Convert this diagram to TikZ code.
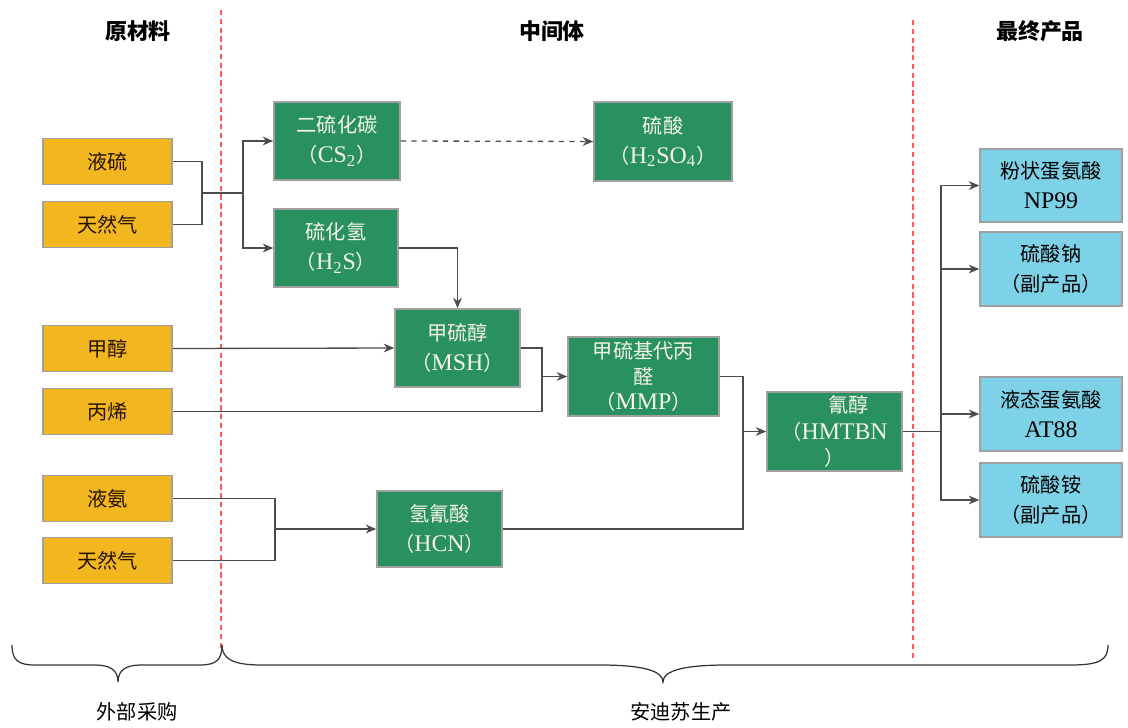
\documentclass[tikz,border=0pt]{standalone}
\usepackage{fontspec}
\setmainfont{Liberation Serif}[Scale=1.18]
\newfontfamily\cjk{Noto Sans CJK SC}
\usetikzlibrary{arrows.meta,calc}
\definecolor{orangebox}{RGB}{242,182,30}
\definecolor{greenbox}{RGB}{41,145,96}
\definecolor{bluebox}{RGB}{126,210,232}
\definecolor{boxborder}{RGB}{160,160,160}
\definecolor{greentext}{RGB}{245,245,230}
\begin{document}
\begin{tikzpicture}[x=0.02cm,y=-0.02cm,
  base/.style={draw=boxborder,line width=0.9pt,align=center,inner sep=0pt,
     font=\fontsize{11.5}{17}\selectfont},
  obox/.style={base,fill=orangebox,text=black!85!orange,minimum width=2.58cm,minimum height=0.92cm},
  gbox/.style={base,fill=greenbox,text=greentext,minimum height=1.56cm},
  pbox/.style={base,fill=bluebox,text=black,minimum width=2.84cm,minimum height=1.47cm},
  head/.style={font=\fontsize{12.5}{15}\selectfont\cjk\bfseries},
  foot/.style={font=\fontsize{11.5}{15}\selectfont\cjk},
  conn/.style={draw=black!70,line width=0.75pt},
  arr/.style={conn,-{Stealth[length=6pt,width=5pt]}},
  sep/.style={draw=red!65,line width=0.6pt,dash pattern=on 3pt off 2pt},
  brace/.style={draw=black!80,line width=0.7pt}
]
\useasboundingbox (0,0) rectangle (1128,727);

% separators
\draw[sep] (221,10) coordinate (s1a) -- (221,648) coordinate (s1b);
\draw[sep] (913,20) coordinate (s2a) -- (913,660) coordinate (s2b);

% headers
\node[head] (h1) at (138,31) {原材料};
\node[head] (h2) at (552,31) {中间体};
\node[head] (h3) at (1040,31) {最终产品};

% raw materials
\node[obox] (ls) at (107.5,161.5) {\cjk 液硫};
\node[obox] (tr) at (107.5,224.5) {\cjk 天然气};
\node[obox] (jc) at (107.5,348.5) {\cjk 甲醇};
\node[obox] (bx) at (107.5,411.5) {\cjk 丙烯};
\node[obox] (ya) at (107.5,498.5) {\cjk 液氨};
\node[obox] (tr2) at (107.5,560.5) {\cjk 天然气};

% intermediates
\node[gbox,minimum width=2.52cm] (cs2) at (337,141) {{\cjk 二硫化碳}\\{\cjk （}CS\textsubscript{2}{\cjk ）}};
\node[gbox,minimum width=2.48cm] (h2s) at (336,248) {{\cjk 硫化氢}\\{\cjk （}H\textsubscript{2}S{\cjk ）}};
\node[gbox,minimum width=2.76cm,minimum height=1.58cm] (h2so4) at (663,141.5) {{\cjk 硫酸}\\{\cjk （}H\textsubscript{2}SO\textsubscript{4}{\cjk ）}};
\node[gbox,minimum width=2.5cm] (msh) at (457.5,348) {{\cjk 甲硫醇}\\{\cjk （}MSH{\cjk ）}};
\node[gbox,minimum width=3.02cm,minimum height=1.58cm,font=\fontsize{11.5}{14.5}\selectfont] (mmp) at (643.5,376.5) {{\cjk 甲硫基代丙}\\{\cjk 醛}\\{\cjk （}MMP{\cjk ）}};
\node[gbox,minimum width=2.7cm,minimum height=1.58cm,font=\fontsize{11.5}{15}\selectfont] (hm) at (834.5,431.5) {\hspace*{1.2em}{\cjk 氰醇}\\{\cjk （}HMTBN\\{\cjk ）}};
\node[gbox,minimum width=2.5cm,minimum height=1.52cm] (hcn) at (439.5,529) {{\cjk 氢氰酸}\\{\cjk （}HCN{\cjk ）}};

% products
\node[pbox] (p1) at (1051,185.5) {{\cjk 粉状蛋氨酸}\\NP99};
\node[pbox] (p2) at (1051,269) {{\cjk 硫酸钠}\\{\cjk （副产品）}};
\node[pbox] (p3) at (1051,414) {{\cjk 液态蛋氨酸}\\AT88};
\node[pbox] (p4) at (1051,500) {{\cjk 硫酸铵}\\{\cjk （副产品）}};

% connectors: sulfur + gas
\coordinate (j1) at (202,193);
\coordinate (j1b) at (243,193);
\draw[conn] (ls.east) -| (j1) |- (tr.east);
\draw[conn] (j1) -- (j1b);
\draw[arr] (j1b) |- (cs2.west);
\draw[arr] (j1b) |- (h2s.west);
\draw[arr,dashed] (cs2.east) -- (h2so4.west);
\draw[arr] (h2s.east) -| (msh.north);
\draw[arr] (jc.east) -- (msh.west);

% MSH + propylene -> MMP
\coordinate (j2) at (542,376.5);
\draw[conn] (msh.east) -| (j2 |- bx.east) -- (bx.east);
\draw[arr] (j2) -- (mmp.west);

% ammonia + gas -> HCN
\coordinate (j4) at (275,529);
\draw[conn] (ya.east) -| (j4) |- (tr2.east);
\draw[arr] (j4) -- (hcn.west);

% MMP + HCN -> HMTBN
\coordinate (j3) at (743,431.5);
\draw[conn] (mmp.east) -| (j3 |- hcn.east) -- (hcn.east);
\draw[arr] (j3) -- (hm.west);

% HMTBN -> products
\coordinate (j5) at (941,431.5);
\draw[conn,line width=1.1pt] (hm.east) -- (j5);
\draw[arr] (j5) |- (p1.west);
\draw[arr] (j5) |- (p2.west);
\draw[arr] (j5) |- (p3.west);
\draw[arr] (j5) |- (p4.west);

% braces
\draw[brace] (12,645) .. controls (12,660) and (18,665) .. (35,665) -- (95,665)
  .. controls (110,665) and (118,670) .. (118,682)
  .. controls (118,670) and (126,665) .. (141,665) -- (200,665)
  .. controls (216,665) and (222,660) .. (222,645);
\draw[brace] (222,645) .. controls (222,660) and (235,665) .. (262,665) -- (600,665)
  .. controls (640,665) and (663,670) .. (663,682)
  .. controls (663,670) and (686,665) .. (727,665) -- (1070,665)
  .. controls (1100,665) and (1108,660) .. (1108,645);
\node[foot] (f1) at (137,712) {外部采购};
\node[foot] (f2) at (681,712) {安迪苏生产};
\end{tikzpicture}
\end{document}
